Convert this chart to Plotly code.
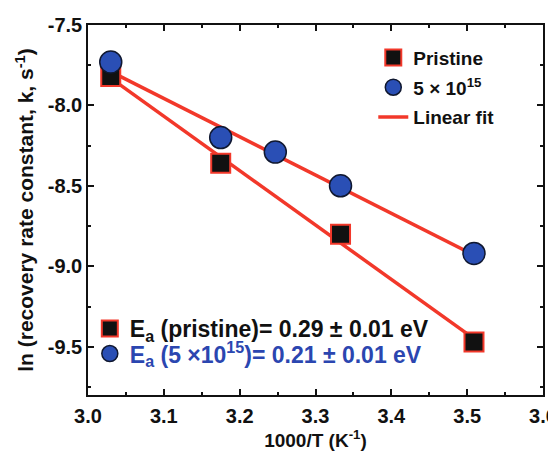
import plotly.graph_objects as go

# data
x_pristine = [3.030, 3.175, 3.333, 3.509]
y_pristine = [-7.82, -8.36, -8.80, -9.47]
x_dose = [3.030, 3.175, 3.247, 3.333, 3.509]
y_dose = [-7.73, -8.20, -8.29, -8.50, -8.92]
fit_x = [3.030, 3.509]
fit_pristine = [-7.83, -9.45]
fit_dose = [-7.79, -8.93]

x_ticks = [3.0, 3.1, 3.2, 3.3, 3.4, 3.5, 3.6]
y_ticks = [-7.5, -8.0, -8.5, -9.0, -9.5]
ea_labels = ["E<sub>a</sub> (pristine)= 0.29 ± 0.01 eV",
             "E<sub>a</sub> (5 ×10<sup>15</sup>)= 0.21 ± 0.01 eV"]

RED = "#f2382a"
BLUE_FILL = "#2a4fb5"
BLUE_TEXT = "#2b46b0"
INK = "#111111"
FONT = "Liberation Sans"

fig = go.Figure()
fig.add_trace(go.Scatter(x=fit_x, y=fit_pristine, mode="lines",
                         line=dict(color=RED, width=3.5), name="Linear fit",
                         legend="legend", legendrank=3, legendgroup="c"))
fig.add_trace(go.Scatter(x=fit_x, y=fit_dose, mode="lines",
                         line=dict(color=RED, width=3.5), showlegend=False))
fig.add_trace(go.Scatter(x=x_pristine, y=y_pristine, mode="markers", name="Pristine",
                         marker=dict(symbol="square", size=19, color=INK,
                                     line=dict(color=RED, width=2)),
                         legend="legend", legendrank=1, legendgroup="a"))
fig.add_trace(go.Scatter(x=x_dose, y=y_dose, mode="markers", name="5 × 10<sup>15</sup>",
                         marker=dict(symbol="circle", size=22, color=BLUE_FILL,
                                     line=dict(color="#101830", width=1.5)),
                         legend="legend", legendrank=2, legendgroup="b"))
# activation-energy keys (separate legends)
fig.add_trace(go.Scatter(x=[None], y=[None], mode="markers", name=ea_labels[0],
                         marker=dict(symbol="square", size=19, color=INK,
                                     line=dict(color=RED, width=2)),
                         legend="legend2"))
fig.add_trace(go.Scatter(x=[None], y=[None], mode="markers",
                         name='<span style="color:%s">%s</span>' % (BLUE_TEXT, ea_labels[1]),
                         marker=dict(symbol="circle", size=22, color=BLUE_FILL,
                                     line=dict(color="#101830", width=1.5)),
                         legend="legend3"))

axis_common = dict(showline=True, linecolor=INK, linewidth=1.5, mirror="ticks",
                   ticks="inside", ticklen=6, tickwidth=1.5, tickcolor=INK,
                   showgrid=False, zeroline=False, automargin=False,
                   tickfont=dict(family=FONT, size=20, color=INK, weight="bold"))

ea_font = dict(family=FONT, size=23, weight="bold", color=INK)

fig.update_layout(
    width=556, height=453,
    margin=dict(l=80, r=21, t=17, b=66),
    paper_bgcolor="white", plot_bgcolor="white",
    font=dict(family=FONT, color=INK),
    xaxis=dict(range=[3.0, 3.6], tickvals=x_ticks, ticktext=["%.1f" % v for v in x_ticks],
               minor=dict(dtick=0.05, ticks="inside", ticklen=3, tickcolor=INK),
               ticklabelstandoff=2,
               title=dict(text="1000/T (K<sup>-1</sup>)", standoff=8,
                          font=dict(family=FONT, size=19, weight="bold")),
               **axis_common),
    yaxis=dict(range=[-9.8, -7.5], tickvals=y_ticks, ticktext=["%.1f" % v for v in y_ticks],
               minor=dict(dtick=0.25, ticks="inside", ticklen=3, tickcolor=INK),
               title=dict(text="ln (recovery rate constant, k, s<sup>-1</sup>)", standoff=8,
                          font=dict(family=FONT, size=21, weight="bold")),
               **axis_common),
    legend=dict(x=0.627, y=0.963, xanchor="left", yanchor="top", bgcolor="rgba(0,0,0,0)",
                font=dict(family=FONT, size=19, weight="bold", color=INK),
                itemsizing="trace", tracegroupgap=2),
    legend2=dict(x=0.004, y=0.238, xanchor="left", yanchor="top", bgcolor="rgba(0,0,0,0)",
                 font=ea_font, itemsizing="trace"),
    legend3=dict(x=0.004, y=0.170, xanchor="left", yanchor="top", bgcolor="rgba(0,0,0,0)",
                 font=ea_font, itemsizing="trace"),
)

fig.write_html("out.html", config={"displayModeBar": False})
